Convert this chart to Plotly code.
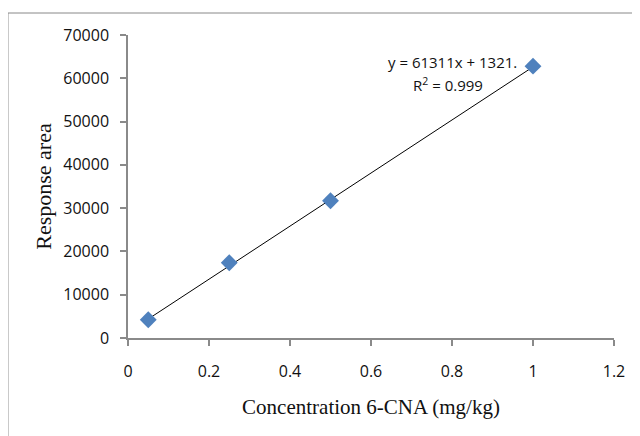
import plotly.graph_objects as go

conc = [0.05, 0.25, 0.5, 1.0]
area = [4200, 17400, 31700, 62800]
slope = 61311
intercept = 1321
trend_x = [0.05, 1.0]
x_ticks = [0, 0.2, 0.4, 0.6, 0.8, 1, 1.2]
y_ticks = [0, 10000, 20000, 30000, 40000, 50000, 60000, 70000]

fig = go.Figure()
fig.add_trace(go.Scatter(
    x=trend_x, y=[slope * v + intercept for v in trend_x], mode="lines",
    line=dict(color="#000000", width=1), showlegend=False, hoverinfo="skip"))
fig.add_trace(go.Scatter(
    x=conc, y=area, mode="markers",
    marker=dict(symbol="diamond", size=13, color="#4F81BD",
                line=dict(color="#4F81BD", width=0)),
    showlegend=False))

tick_font = dict(family="Open Sans, Liberation Sans", size=16, color="#111")
axis_common = dict(showline=True, linecolor="#8a8a8a", linewidth=1.5,
                   ticks="outside", ticklen=6, tickcolor="#8a8a8a", tickwidth=1.5,
                   showgrid=False, zeroline=False, tickfont=tick_font)

lbl_font = dict(family="Open Sans, Liberation Sans", size=15, color="#111")

fig.update_layout(
    width=640, height=436,
    margin=dict(l=120, r=34, t=27, b=106),
    paper_bgcolor="white", plot_bgcolor="white",
    xaxis=dict(range=[0, 1.2], tickvals=x_ticks, ticktext=[str(v) for v in x_ticks],
               ticklabelstandoff=12,
               title=dict(text="Concentration 6-CNA (mg/kg)", standoff=18,
                          font=dict(family="Liberation Serif", size=21, color="#111")),
               **axis_common),
    yaxis=dict(range=[0, 70000], tickvals=y_ticks, ticktext=[str(v) for v in y_ticks],
               ticklabelstandoff=8,
               title=dict(text="Response area", standoff=6,
                          font=dict(family="Liberation Serif", size=22, color="#111")),
               **axis_common),
    shapes=[dict(type="rect", xref="paper", yref="paper",
                 x0=-0.247, x1=1.2, y0=-0.6, y1=1.0726,
                 line=dict(color="#888888", width=1), fillcolor="rgba(0,0,0,0)")],
    annotations=[
        dict(x=0.667, y=0.911, xref="paper", yref="paper", text="y = 61311x + 1321.",
             xanchor="center", yanchor="middle", showarrow=False, font=lbl_font),
        dict(x=0.658, y=0.838, xref="paper", yref="paper", text="R<sup>2</sup> = 0.999",
             xanchor="center", yanchor="middle", showarrow=False, font=lbl_font),
    ],
)

fig.write_html("out.html")
